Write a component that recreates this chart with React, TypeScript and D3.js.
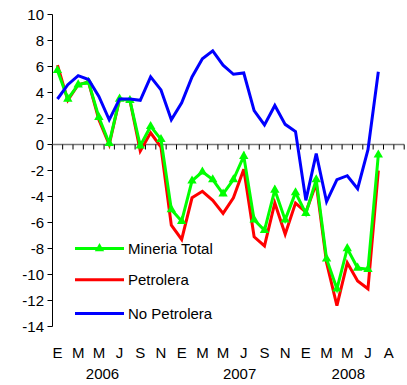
import React from "react";
import * as d3 from "d3";

const monthLabels = ["E","M","M","J","S","N","E","M","M","J","S","N","E","M","M","J","A"];
const yearLabels = ["2006", "2007", "2008"];
const yearPositions = [4.35, 17.6, 28.1];
const yTicks = [10, 8, 6, 4, 2, 0, -2, -4, -6, -8, -10, -12, -14];
const seriesNames = ["Mineria Total", "Petrolera", "No Petrolera"];

const mineriaTotal = [5.7, 3.5, 4.6, 4.8, 2.1, 0.1, 3.5, 3.4, -0.1, 1.4, 0.4, -5.0, -5.9, -2.8, -2.1, -2.7, -3.8, -2.7, -0.9, -5.8, -6.6, -3.5, -5.8, -3.7, -5.3, -2.7, -8.8, -11.1, -8.0, -9.5, -9.6, -0.8];
const petrolera = [6.1, 3.4, 4.6, 4.8, 1.9, 0.0, 3.5, 3.4, -0.5, 0.9, -0.2, -6.2, -7.3, -4.1, -3.6, -4.3, -5.3, -4.1, -1.9, -7.1, -7.8, -4.5, -6.9, -4.5, -5.2, -3.0, -9.1, -12.4, -9.1, -10.5, -11.1, -2.0];
const noPetrolera = [3.5, 4.6, 5.3, 5.0, 3.7, 1.9, 3.5, 3.5, 3.4, 5.2, 4.2, 1.9, 3.2, 5.2, 6.6, 7.2, 6.1, 5.4, 5.5, 2.6, 1.5, 3.0, 1.55, 1.0, -4.3, -0.7, -4.4, -2.7, -2.4, -3.4, -0.4, 5.6];

const N_CATS = 34;
const FONT = "'Liberation Sans', Arial, sans-serif";

export default function App() {
  const x = d3.scaleBand<number>().domain(d3.range(N_CATS)).range([52.3, 404.2]).padding(0);
  const y = d3.scaleLinear().domain([-14, 10]).range([326.5, 14.5]);
  const cx = (i: number) => (x(i) as number) + x.bandwidth() / 2;
  const line = d3.line<number>().x((_, i) => cx(i)).y((d) => y(d));
  const tri = d3.symbol().type(d3.symbolTriangle).size(38)() as string;
  const colors = ["#00FF00", "#FF0000", "#0000FF"];
  const axisColor = "#777";
  const legendY = [-8, -10.4, -13];

  return (
    <svg width={407} height={385} style={{ position: "absolute", left: 0, top: 0, background: "#fff" }}>
      {/* y axis */}
      <line x1={52.5} x2={52.5} y1={y(10)} y2={y(-14)} stroke="#000" strokeWidth={1} />
      {yTicks.map((t) => (
        <g key={t}>
          <line x1={47.5} x2={52.5} y1={y(t)} y2={y(t)} stroke="#000" />
          <text x={44} y={y(t)} dy="0.35em" textAnchor="end" fontFamily={FONT} fontSize={15} fill="#000">{t}</text>
        </g>
      ))}
      {/* x axis at 0 */}
      <line x1={x.range()[0]} x2={x.range()[1]} y1={y(0)} y2={y(0)} stroke={axisColor} strokeWidth={1.5} />
      {d3.range(N_CATS + 1).map((i) => {
        const xx = x.range()[0] + i * x.bandwidth();
        return <line key={i} x1={xx} x2={xx} y1={y(0)} y2={y(0) + 5} stroke="#000" />;
      })}
      {monthLabels.map((m, k) => (
        <text key={k} x={cx(k * 2)} y={357.5} textAnchor="middle" fontFamily={FONT} fontSize={15} fill="#000">{m}</text>
      ))}
      {yearLabels.map((yl, k) => (
        <text key={yl} x={x.range()[0] + (yearPositions[k] + 0.5) * x.bandwidth()} y={378.5} textAnchor="middle" fontFamily={FONT} fontSize={15} fill="#000">{yl}</text>
      ))}
      {/* series */}
      <path d={line(petrolera) as string} fill="none" stroke={colors[1]} strokeWidth={3} strokeLinejoin="miter" />
      <path d={line(mineriaTotal) as string} fill="none" stroke={colors[0]} strokeWidth={3} strokeLinejoin="miter" />
      {mineriaTotal.map((v, i) => (
        <path key={i} d={tri} transform={`translate(${cx(i)},${y(v)})`} fill={colors[0]} />
      ))}
      <path d={line(noPetrolera) as string} fill="none" stroke={colors[2]} strokeWidth={3} strokeLinejoin="miter" />
      {/* legend */}
      {seriesNames.map((name, k) => (
        <g key={name}>
          <line x1={75} x2={124} y1={y(legendY[k])} y2={y(legendY[k])} stroke={colors[k]} strokeWidth={3} />
          {k === 0 && <path d={tri} transform={`translate(99.5,${y(legendY[k])})`} fill={colors[0]} />}
          <text x={128} y={y(legendY[k])} dy="0.35em" fontFamily={FONT} fontSize={15} fill="#000">{name}</text>
        </g>
      ))}
    </svg>
  );
}
